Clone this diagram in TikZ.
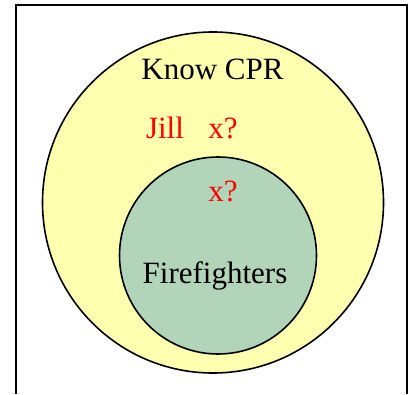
\documentclass[tikz,border=0pt]{standalone}
\usepackage{fontspec}
\setmainfont{Liberation Serif}
\usetikzlibrary{positioning}
\definecolor{cprfill}{RGB}{255,255,176}
\definecolor{firefill}{RGB}{178,212,184}

\begin{document}
\begin{tikzpicture}[x=1pt, y=1pt,
				set/.style={circle, draw=black, line width=1.6pt, inner sep=0pt},
				setlabel/.style={rectangle, inner sep=0pt, font=\fontsize{31}{37}\selectfont},
				member/.style={setlabel, text=red}
			]
			\useasboundingbox (0,0) rectangle (409,394);
			\draw[line width=2pt] (15.5,0) -- (15.5,388.5) -- (407,388.5) -- (407,0);
			\node[set, fill=cprfill, minimum size=341pt] (cpr) at (213,191.5) {};
			\node[set, fill=firefill, minimum size=197pt] (fire) at (218,138.5) {};
			\node[setlabel, anchor=base] (knowcpr) at (212.5,314) {Know CPR};
			\node[setlabel, anchor=base] (firefighters) at (215,111) {Firefighters};
			\node[member, anchor=base] (jill) at (165,255) {Jill};
			\node[member] (xout) [base right=24pt of jill] {x?};
			\node[member, anchor=base] (xin) at (223,193) {x?};
		\end{tikzpicture}
\end{document}
